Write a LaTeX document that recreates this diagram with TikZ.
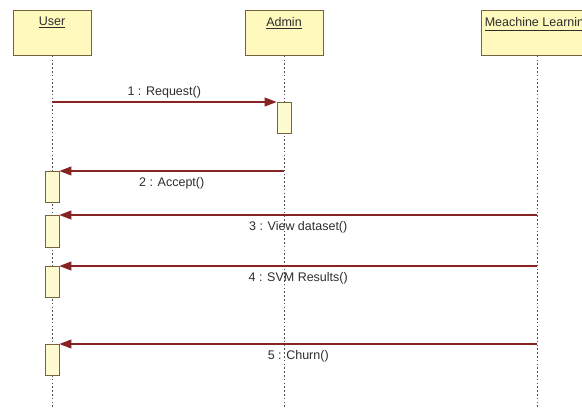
\documentclass[tikz,border=0pt]{standalone}
\usepackage{fontspec}
\setmainfont{Liberation Sans}
\usetikzlibrary{arrows.meta}
\definecolor{boxfill}{RGB}{255,249,190}
\definecolor{boxline}{RGB}{120,100,60}
\definecolor{msgred}{RGB}{135,35,35}
\definecolor{txtgray}{RGB}{45,45,45}
\tikzset{
	headbox/.style={draw=boxline, fill=boxfill, line width=0.9pt, minimum width=78pt, minimum height=45pt, anchor=north, inner sep=0pt},
	headtext/.style={anchor=north, yshift=-6pt, font=\fontsize{12.5}{14}\selectfont, text=txtgray, inner sep=1pt},
	actbox/.style={draw=boxline, fill=boxfill!70!white, line width=0.9pt, minimum width=14pt, minimum height=31pt, anchor=north, inner sep=0pt},
	lifeline/.style={draw=black!70, line width=0.9pt, dash pattern=on 1.6pt off 2.2pt},
	msg/.style={draw=msgred, line width=1.1pt, -{Triangle[length=12pt, width=9pt]}},
	msgtext/.style={font=\fontsize{12.5}{14}\selectfont, text=txtgray, inner sep=1pt}
}

\begin{document}
\begin{tikzpicture}[x=1pt, y=-1pt]
			%%%%% START %%%%%
			\useasboundingbox (0, 0) rectangle (582, 409);
			\clip (0, 0) rectangle (582, 409);
			\fill[white] (0, 0) rectangle (582, 409);
			
			% heads
			\node[headbox] (user) at (52, 10) {};
			\node[headbox] (admin) at (284, 10) {};
			\node[headbox, minimum width=112pt] (ml) at (537, 10) {};
			\node[headtext] at (user.north) {\underline{User}};
			\node[headtext] at (admin.north) {\underline{Admin}};
			\node[headtext, anchor=north west, xshift=3pt] at (ml.north west) {\underline{Meachine Learning}};
			
			% lifelines
			\coordinate (userend) at (52, 409);
			\coordinate (adminend) at (284, 409);
			\coordinate (mlend) at (537, 409);
			\draw[lifeline] (user.south) -- (userend);
			\draw[lifeline] (admin.south) -- (adminend);
			\draw[lifeline] (ml.south) -- (mlend);
			
			% activations
			\node[actbox] (act1) at (284, 102) {};
			\node[actbox] (act2) at (52, 171) {};
			\node[actbox, minimum height=32pt] (act3) at (52, 215) {};
			\node[actbox] (act4) at (52, 266) {};
			\node[actbox] (act5) at (52, 344) {};
			
			% message starts
			\coordinate (m1) at (52, 102);
			\coordinate (m2) at (284, 171);
			\coordinate (m3) at (537, 215);
			\coordinate (m4) at (537, 266);
			\coordinate (m5) at (537, 344);
			
			% messages
			\draw[msg] (m1) -- (act1.north west) node[msgtext, midway, above=2pt] {1 : Request()};
			\draw[msg] (m2) -- (act2.north east) node[msgtext, midway, below=5pt] {2 : Accept()};
			\draw[msg] (m3) -- (act3.north east) node[msgtext, midway, below=5pt] {3 : View dataset()};
			\draw[msg] (m4) -- (act4.north east) node[msgtext, midway, below=5pt] {4 : SVM Results()};
			\draw[msg] (m5) -- (act5.north east) node[msgtext, midway, below=5pt] {5 : Churn()};
			
			%%%%% END %%%%%
		\end{tikzpicture}
\end{document}
